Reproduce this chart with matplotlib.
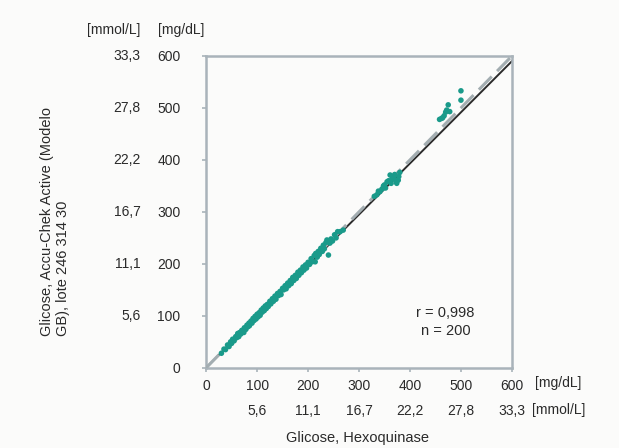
import matplotlib.pyplot as plt

plt.rcParams['font.family'] = ['Liberation Sans', 'DejaVu Sans']

# tick values and labels
mg_ticks = [0, 100, 200, 300, 400, 500, 600]
mmol_labels = ['', '5,6', '11,1', '16,7', '22,2', '27,8', '33,3']

# measurements (mg/dL): hexokinase reference vs meter
hexo = [30, 35, 38, 42, 45, 48, 50, 52, 55, 58, 60, 62, 64, 66, 68, 70, 72, 74, 75, 78,
        80, 82, 84, 85, 88, 90, 92, 94, 96, 98, 100, 102, 104, 106, 108, 110, 112, 114, 116, 118,
        120, 122, 125, 127, 130, 132, 135, 137, 140, 142, 145, 147, 150, 152, 155, 157, 160, 162, 165, 167,
        170, 172, 175, 177, 180, 182, 185, 187, 190, 192, 195, 197, 200, 203, 206, 208, 212, 214, 215, 218,
        220, 222, 225, 228, 230, 232, 235, 237, 240, 240, 243, 245, 248, 252, 255, 258, 263, 269,
        330, 335, 338, 341, 345, 348, 350, 352, 355, 358, 361, 363, 365, 368, 370, 372, 374, 377, 378, 380,
        458, 462, 464, 467, 470, 472, 475, 478, 500, 500]
meter = [28, 36, 35, 44, 41, 50, 47, 55, 52, 60, 58, 66, 60, 68, 65, 72, 70, 68, 77, 74,
         82, 79, 86, 81, 90, 86, 95, 91, 99, 94, 103, 98, 106, 101, 111, 107, 115, 110, 119, 114,
         122, 118, 128, 123, 133, 128, 138, 132, 143, 139, 147, 141, 153, 150, 158, 152, 163, 158, 168, 162,
         174, 168, 178, 172, 184, 178, 188, 183, 194, 188, 198, 192, 203, 199, 210, 204, 216, 204, 220, 213,
         224, 218, 230, 224, 236, 229, 241, 246, 243, 217, 240, 248, 244, 256, 250, 262, 262, 265,
         330, 333, 340, 339, 344, 350, 352, 346, 358, 360, 371, 355, 364, 368, 372, 360, 355, 361, 368, 376,
         478, 480, 481, 485, 492, 496, 506, 493, 515, 533]

# identity line and regression line end points
ident_x = [0, 600]
ident_y = [0, 600]
reg_x = [0, 600]
reg_y = [0, 590]

fig = plt.figure(figsize=(6.19, 4.48), dpi=100)
fig.patch.set_facecolor('#fbfbfa')
ax = fig.add_axes([0.333, 0.179, 0.494, 0.696])
ax.set_facecolor('#fbfbfa')

ax.plot(reg_x, reg_y, color='#2b2b2b', lw=1.4, zorder=2)
ax.plot(ident_x, ident_y, color='#a3adb1', lw=2.2, dashes=(6, 2.5), zorder=3)
ax.scatter(hexo, meter, s=16, color='#1a9a8a', edgecolors='none', zorder=4)

ax.set_xlim(0, 600)
ax.set_ylim(0, 600)
for sp in ax.spines.values():
    sp.set_color('#a9b3ba')
    sp.set_linewidth(1.8)

txt = '#2a2a2a'
ax.set_xticks(mg_ticks)
ax.set_yticks(mg_ticks)
ax.set_xticklabels([str(v) for v in mg_ticks], fontsize=10, color=txt)
ax.set_yticklabels([str(v) for v in mg_ticks], fontsize=10, color=txt, ha='right')
ax.tick_params(axis='both', length=3, width=1.2, color='#a9b3ba')
ax.tick_params(axis='x', pad=5)
ax.tick_params(axis='y', pad=15.5)

# secondary (mmol/L) labels
for v, lab in zip(mg_ticks, mmol_labels):
    ax.text(-0.215, v, lab, transform=ax.get_yaxis_transform(), ha='right', va='center',
            fontsize=10, color=txt, clip_on=False)
    ax.text(v, -0.14, lab, transform=ax.get_xaxis_transform(), ha='center', va='center',
            fontsize=10, color=txt, clip_on=False)

fig.text(140 / 619, 1 - 30 / 448, '[mmol/L]', ha='right', va='center', fontsize=10, color=txt)
fig.text(158 / 619, 1 - 30 / 448, '[mg/dL]', ha='left', va='center', fontsize=10, color=txt)
fig.text(535 / 619, 1 - 383 / 448, '[mg/dL]', ha='left', va='center', fontsize=10, color=txt)
fig.text(532 / 619, 1 - 410 / 448, '[mmol/L]', ha='left', va='center', fontsize=10, color=txt)
fig.text(358 / 619, 1 - 438 / 448, 'Glicose, Hexoquinase', ha='center', va='center', fontsize=10.5, color=txt)
fig.text(55 / 619, 1 - 222 / 448, 'Glicose, Accu-Chek Active (Modelo\nGB), lote 246 314 30',
         rotation=90, ha='center', va='center', multialignment='left', fontsize=10.5,
         color=txt, linespacing=1.1)

ax.text(470, 88, 'r = 0,998\nn = 200', ha='center', va='center', fontsize=10.5,
        color=txt, linespacing=1.3)

fig.savefig('out.png', dpi=100, facecolor=fig.get_facecolor())
